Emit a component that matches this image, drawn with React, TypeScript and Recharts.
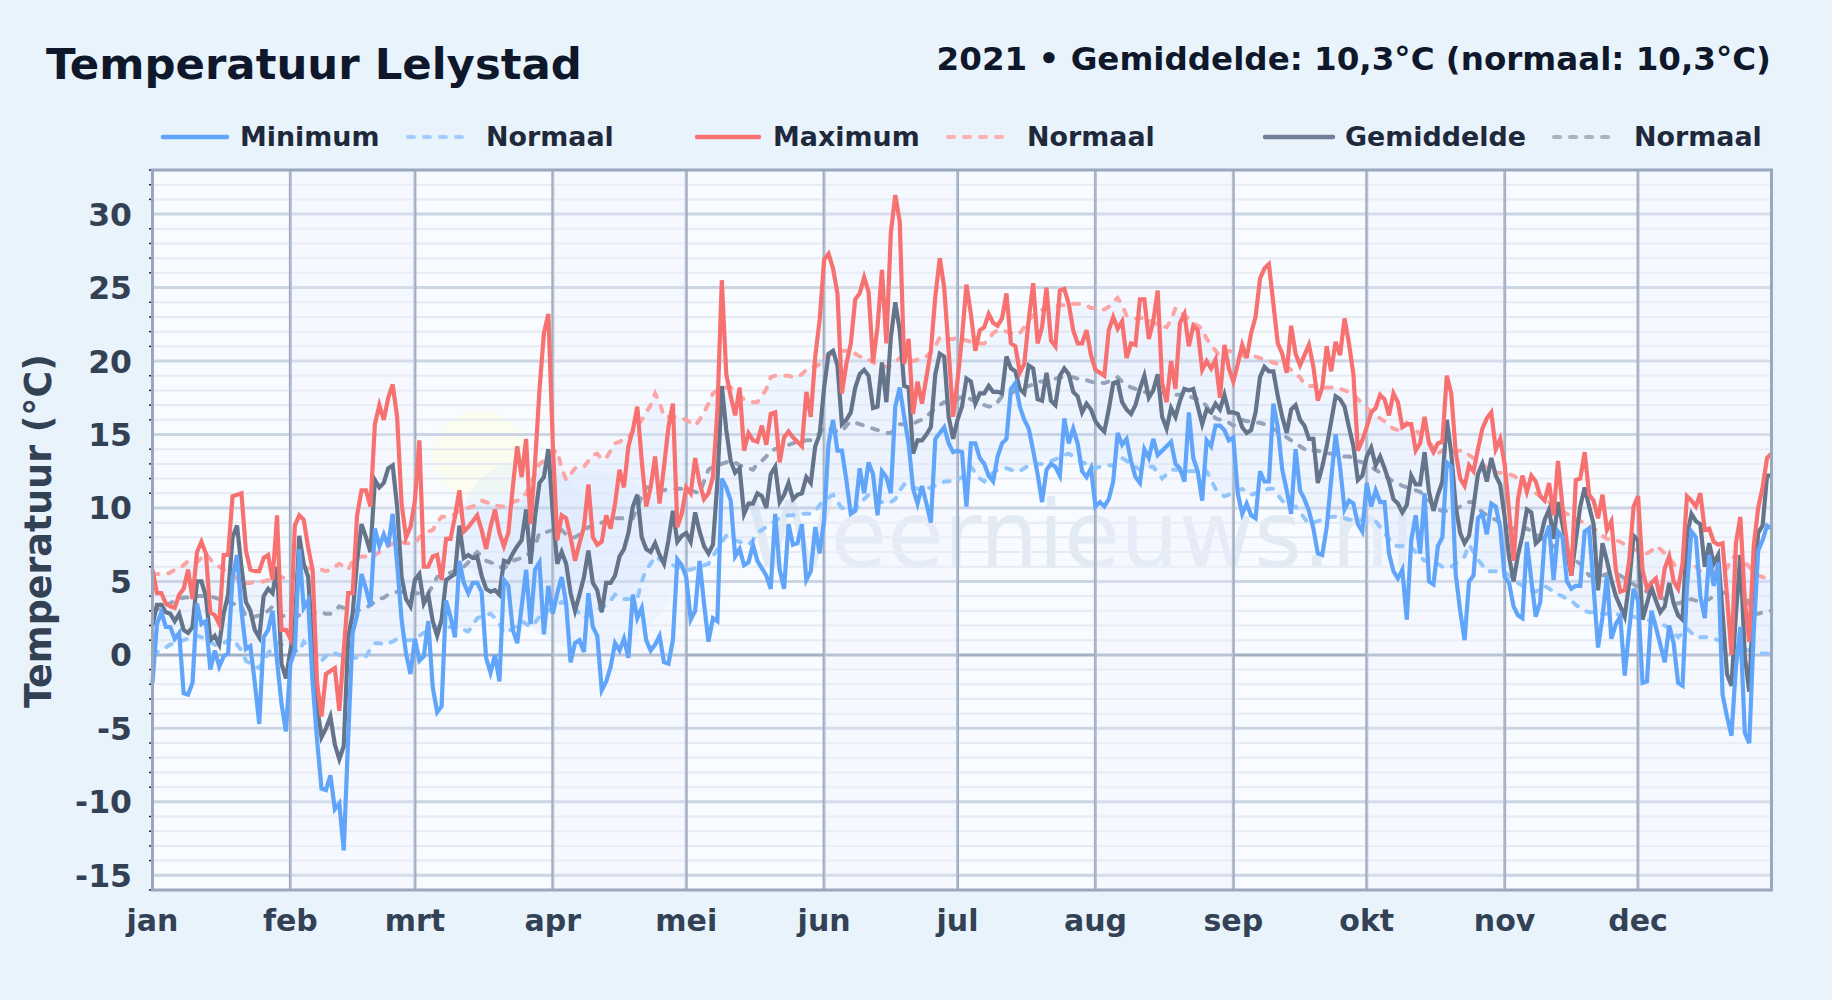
import React from 'react';
import { ComposedChart, Line, Area, XAxis, YAxis, CartesianGrid, ReferenceArea } from 'recharts';

const monthLabels = ['jan', 'feb', 'mrt', 'apr', 'mei', 'jun', 'jul', 'aug', 'sep', 'okt', 'nov', 'dec'];
const monthStarts = [0, 31, 59, 90, 120, 151, 181, 212, 243, 273, 304, 334];
const shadedMonths = [[31, 59], [90, 120], [151, 181], [212, 243], [273, 304], [334, 364]];
const yMajor = [-15, -10, -5, 5, 10, 15, 20, 25, 30];
const yMinor = [-16, -14, -13, -12, -11, -9, -8, -7, -6, -4, -3, -2, -1, 1, 2, 3, 4, 6, 7, 8, 9, 11, 12, 13, 14, 16, 17, 18, 19, 21, 22, 23, 24, 26, 27, 28, 29, 31, 32, 33];
const yTicks = [-16, -15, ...yMinor.slice(1, 5), -10, ...yMinor.slice(5, 9), -5, ...yMinor.slice(9, 13), 0, ...yMinor.slice(13, 17), 5, ...yMinor.slice(17, 21), 10, ...yMinor.slice(21, 25), 15, ...yMinor.slice(25, 29), 20, ...yMinor.slice(29, 33), 25, ...yMinor.slice(33, 37), 30, 31, 32, 33];

const minimum = [
  -1.9, 2.1, 2.9, 1.9, 1.9, 1.1, 1.5, -2.6, -2.7, -1.9, 3.5, 2.1, 2.3, -1, 0.3, -0.8, -0.1, 0.1, 5.3, 6.8, 3, 0.4, 0.6, -1.9, -4.7, 1.2, 1.7, 3, -0.4, -3.3, -5.2,
  -0.6, 0.3, 7.2, 3.2, 3.7, -1.9, -5.8, -9.1, -9.2, -8.2, -10.5, -10.1, -13.3, -5.6, 1.5, 2.7, 5.5, 4.5, 3.3, 8.6, 7.4, 8.2, 7.4, 9.6, 6.2, 2.4, 0.1, -1.3,
  1.1, -0.4, -0.1, 2.3, -2.2, -3.9, -3.5, 3.7, 2.6, 1.2, 6.4, 4.9, 4.2, 4.9, 4.9, 4.3, -0.2, -1.2, 0, -1.8, 5.1, 4.7, 1.7, 0.8, 3.3, 5.8, 2.1, 5.8, 6.3, 1.4, 4.7,
  2.8, 4.2, 5.3, 3.5, -0.5, 0.8, 1, 0.2, 4.2, 1.9, 1.3, -2.4, -1.8, -0.8, 0.8, 0.3, 1.1, -0.2, 4.1, 2.5, 3.2, 1, 0.3, 0.7, 1.3, -0.5, -0.6, 1, 6.5, 6.1,
  5.3, 2.4, 3, 6.4, 3.5, 0.9, 2.5, 2.3, 12, 11.4, 10.5, 6.7, 7.2, 6.1, 6.3, 7.5, 6.4, 5.9, 5.4, 4.5, 9.6, 5.8, 4.5, 8.9, 7.5, 7.6, 8.9, 5.1, 5.7, 8.7, 6.9,
  9.2, 14.4, 16, 13.9, 13.9, 11.9, 9.6, 9.8, 12.7, 11, 13.1, 12.3, 9.5, 12.5, 12.1, 11, 16.9, 18.2, 16.2, 14.4, 11.3, 10.3, 11.5, 10.3, 9, 14.7, 15.1, 15.5, 14.4, 13.8,
  13.9, 13.8, 10.1, 14.4, 14.4, 13.4, 13, 12.2, 11.8, 13.5, 14.4, 14.7, 18.1, 18.5, 16.9, 16, 15.4, 13.9, 12.3, 10.4, 12.6, 13, 12.8, 12.2, 16.1, 14.4, 15.4, 14.4, 12.5, 12.1, 12.7,
  10.1, 10.4, 10.1, 10.6, 11.8, 15.1, 14.3, 14.7, 13.2, 12.1, 11.7, 14, 13.4, 14.7, 13.6, 13.9, 14.2, 14.5, 13, 12.7, 11.8, 16.5, 13.4, 12.5, 10.5, 14.6, 14.2, 15.6, 15.6, 15.3, 14.6,
  14.8, 11, 9.6, 10.3, 9.5, 9.3, 12.5, 11.8, 11.8, 17.1, 15.5, 12.6, 11.2, 9.6, 14, 11.2, 10.6, 9.8, 8.6, 6.9, 6.8, 8.7, 11.9, 15, 12.8, 9.9, 10.5, 10.3, 8.9, 8.4,
  11.7, 10.1, 11.2, 10.4, 10.4, 6.9, 5.7, 5.2, 5.8, 2.4, 7.8, 9.5, 6.9, 11, 5, 4.8, 7.4, 8, 13.1, 12.8, 5.5, 3, 1, 5, 5.4, 9.3, 9.6, 8.2, 10.3, 10.1, 8.7,
  5.3, 4.9, 3.3, 2.7, 2.5, 7.7, 5.1, 2.6, 3.6, 7.9, 8.8, 5.1, 8.4, 8, 5, 4.5, 4.7, 4.7, 8.4, 8.6, 4.6, 0.5, 2.6, 5.4, 1.1, 2.1, 2.6, -1.4, 1.7, 4.5,
  3.7, -1.9, -1.8, 3, 1.9, 0.7, -0.5, 2, 0.8, -1.9, -2.1, 4.6, 8.4, 8, 4, 2.5, 6.8, 4.7, 6.3, -2.7, -4.2, -5.5, -0.8, 1.9, -5.3, -6, 1.5, 7.1, 7.8, 8.8, 8.6,
];

const maximum = [
  5.8, 4.2, 4.2, 3.5, 3.3, 3.2, 4.1, 4.5, 5.8, 3.8, 7, 7.7, 6.9, 2.9, 2.7, 2.1, 6.8, 6.8, 10.8, 10.9, 11, 7.1, 5.8, 5.7, 5.7, 6.6, 6.8, 5.1, 9.5, 1.7, 1.7,
  1.1, 8.8, 9.5, 9.2, 7.3, 5.8, -1.9, -4.2, -1.3, -1.1, -0.9, -3.8, 0.3, 4.2, 4.2, 9.5, 11.2, 11.2, 10.1, 15.7, 17, 16, 17.5, 18.4, 16.2, 10.3, 8, 8.7,
  10.5, 14.6, 6, 6, 6.7, 6.8, 5.1, 7.9, 7.9, 9.4, 11.2, 8.4, 8.7, 9.1, 9.5, 8.5, 7.2, 8.7, 9.9, 8.3, 7.4, 8.3, 11.4, 14.2, 12.1, 14.7, 8.9, 13, 18, 21.9, 23.2,
  14.4, 7.8, 9.5, 9.3, 8, 6.4, 7.6, 8.7, 11.6, 8, 7.5, 7.7, 9.5, 8.6, 10.3, 12.6, 11.4, 14.2, 15.3, 16.9, 13.2, 10.1, 11.4, 13.5, 10.3, 12.8, 15.5, 17.1, 8.7, 9.6,
  11.4, 11, 13.4, 11.7, 10.6, 11, 12.1, 16.6, 25.5, 19.1, 17.6, 16.3, 18.2, 13.9, 15.1, 14.6, 14.5, 15.6, 14.3, 16.4, 16.5, 13.1, 14.8, 15.2, 14.8, 14.5, 14.2, 17.9, 16.2, 20.3, 22.8,
  26.9, 27.3, 26.3, 24.6, 17.8, 19.8, 21.2, 24.2, 24.6, 25.7, 24.7, 19.9, 22.3, 26.2, 21.2, 28.7, 31.3, 29.5, 19.8, 21.5, 16.4, 18.6, 17.1, 18.9, 20.7, 24.4, 27, 25, 20.7, 16.2,
  18.7, 21.6, 25.2, 23.2, 20.7, 22.1, 22.3, 23.2, 22.6, 22.4, 22.9, 24.6, 21.2, 21, 19.2, 19.8, 22.8, 25.3, 21.2, 22.3, 25, 21.4, 21, 24.8, 24.9, 23.9, 22.1, 21.2, 21.2, 22.1, 20.4,
  19.4, 19.2, 19, 22.1, 23, 22.2, 22.7, 20.2, 21.2, 21.1, 24.2, 24.2, 21.5, 22.7, 24.8, 18.5, 17.2, 20, 18.1, 22.6, 23.2, 21, 22.4, 22.1, 19.4, 20, 19.5, 20.1, 17.5, 21.1, 19.5,
  18.6, 19.8, 21.1, 20.2, 21.9, 23, 25.6, 26.3, 26.6, 23.9, 21.2, 20.5, 19.2, 22.4, 20.5, 19.7, 20.4, 21.1, 19.6, 17.3, 18.2, 21, 19.3, 21.3, 20.4, 22.9, 21.2, 19.1, 13.9, 14.6,
  15.5, 16.5, 16.8, 17.7, 17.4, 16.3, 17.8, 17.2, 15.5, 15.7, 15.7, 13.9, 14.4, 16.2, 14.4, 13.8, 14.4, 14.5, 19, 17.8, 13.8, 12, 11.5, 12.9, 12.5, 14, 15.4, 16.1, 16.5, 14, 14.7,
  13, 9.8, 6.4, 10.6, 12.2, 11.1, 12.2, 11.8, 10.8, 10.5, 11.7, 9.5, 13.2, 10.1, 7.6, 5.4, 11.9, 12, 13.8, 10.9, 10.5, 9.3, 10.9, 8.5, 9.1, 5.8, 4.3, 4.4, 6.4, 10.1,
  10.8, 5.8, 4.5, 4.9, 5.2, 3.8, 5.9, 6.7, 5, 4.5, 6.2, 10.8, 10.5, 10.1, 11, 8.5, 8.6, 7.7, 7.5, 7.6, 4, 0, 7.6, 9.4, 3.7, 0.9, 7.4, 10, 11.4, 13.4, 13.7,
];

const gemiddelde = [
  2, 3.4, 3.4, 2.9, 2.8, 2.3, 2.8, 1.7, 1.5, 1.9, 5, 5, 4, 1, 1.3, 0.7, 2.8, 4.1, 8, 8.8, 6, 3.6, 3, 1.7, 1.2, 4, 4.5, 4.2, 6, -0.6, -1.6,
  0.3, 1.9, 8.1, 6.2, 5.3, 0.6, -3.5, -5.6, -5, -4.2, -6.1, -7.1, -6.2, 1.2, 2.8, 6.4, 8.9, 8, 7, 11.9, 11.4, 11.7, 12.7, 12.9, 10.1, 5.3, 3.8, 3.3,
  5.1, 5.5, 3.5, 4.1, 2.3, 1.3, 2.4, 5.1, 5.3, 5.5, 8.8, 6.6, 6.8, 6.6, 6.7, 5.4, 4.5, 4.3, 4.4, 4.1, 6.4, 6.3, 6.9, 7.4, 7.8, 9.9, 6.2, 9.4, 11.7, 12.1, 14,
  9.6, 6.2, 7, 6.2, 4.2, 3, 4.1, 5.3, 7.1, 4.9, 4.4, 2.9, 4.9, 4.9, 5.4, 6.7, 7.2, 8.3, 10.1, 10.9, 8, 7.2, 7, 7.6, 6.8, 6.2, 7.8, 9.8, 7.7, 8.1,
  8.3, 7.7, 9.7, 8.4, 7.4, 6.9, 7.5, 11.7, 18.3, 15.3, 13.2, 12.4, 12.7, 9.6, 10.3, 10.3, 11, 10.8, 10, 12.3, 12.8, 10.4, 10.9, 11.7, 10.6, 10.9, 11, 12.1, 11.7, 14.2, 15,
  18.2, 20.5, 20.7, 19.7, 15.7, 16, 16.5, 18.2, 19.1, 19.4, 19, 16.8, 16.9, 19.9, 17.2, 21.6, 24, 22.1, 18.3, 18.2, 13.7, 14.6, 14.6, 15, 15.5, 19.1, 20.5, 20.3, 16.2, 14.7,
  16, 16.9, 18.8, 18.6, 17.1, 17.8, 17.8, 18.3, 17.9, 17.9, 17.8, 20.3, 19.5, 19.3, 18.1, 17.8, 19.7, 19.5, 17.4, 17.3, 19.2, 17.3, 17, 19, 19.5, 19.1, 17.9, 17.6, 16.5, 17.1, 16.7,
  15.9, 15.5, 15.2, 16.7, 18.5, 18.6, 17.2, 16.7, 16.4, 17, 18.1, 19, 17.5, 18, 19.1, 16.2, 15.4, 16.8, 16.2, 17.3, 18.1, 18, 18.1, 16.9, 15.7, 16.7, 16.5, 17.1, 16.7, 17.7, 16.5,
  16.5, 16.4, 15.5, 15.1, 15.3, 16.5, 18.9, 19.6, 19.3, 19.3, 17.6, 16.2, 15.1, 16.7, 17, 16, 15.6, 14.7, 14.7, 11.7, 12.8, 14.2, 15.9, 17.6, 17.4, 16.9, 15.5, 14.2, 11.9, 12.2,
  13.5, 14.1, 12.9, 13.5, 12.7, 11.8, 10.6, 10.3, 9.7, 10.2, 12.2, 11.6, 11.6, 13.8, 11.1, 9.8, 10.9, 11.8, 16, 13.7, 10.1, 8.3, 7.6, 8.1, 10.1, 12.3, 13, 11.8, 13.4, 12.2, 11.6,
  9.4, 6.7, 5, 6.8, 8.1, 9.9, 9.7, 7.6, 7.9, 9.2, 9.9, 7.9, 10.4, 8.9, 7.1, 5.4, 7.8, 10.1, 11.4, 10.1, 8.9, 4.4, 7.6, 6.4, 5.1, 4, 3.3, 2.6, 4.9, 8.1,
  7.8, 2.4, 3.5, 4.6, 3.7, 2.9, 3.3, 4.9, 3.5, 2.7, 2.4, 8.1, 9.6, 9.1, 8.9, 6, 7.6, 6.2, 6.8, 2.8, -1.3, -2.1, 2.8, 6.8, -0.1, -2.5, 4.4, 8.3, 8.8, 12.2, 12.2,
];

const normaalMin = [
  0, 0.2, 0.3, 0.5, 0.7, 0.8, 0.9, 1, 1.1, 1.2, 1.3, 1.2, 1.1, 0.9, 0.7, 0.6, 0.8, 1, 1.1, 0.7, 0.3, -0.4, -0.6, -0.8, -0.9, -0.4, 0.1, 0.5, 0.8, 0.7, 0.6,
  0.5, 0.3, 0.2, 0.9, 0.6, 0.2, -0.2, -0.4, -0.1, 0.2, 0.1, 0, -0.1, -0.1, -0.2, -0.2, -0.2, -0.1, 0.4, 0.8, 0.8, 0.7, 0.8, 0.9, 1.1, 1.1, 1, 1,
  1.1, 1.3, 1.5, 1.7, 1.9, 1.9, 1.9, 1.9, 1.9, 1.9, 1.8, 1.7, 1.6, 2, 2.5, 2.6, 2.7, 2.8, 2.5, 2.1, 1.5, 1.6, 1.8, 2, 2.3, 2.1, 1.9, 2.2, 2.6, 2.8, 3,
  3.2, 3.4, 3.6, 3.5, 3.4, 3.2, 2.8, 2.5, 2.7, 2.9, 3.1, 3.2, 3.4, 3.7, 4.1, 4, 3.8, 3.8, 3.8, 3.8, 5, 5.8, 6.2, 6.7, 6.5, 6.3, 6.2, 6.1, 6, 5.9,
  5.8, 5.8, 5.9, 6, 6.1, 6.2, 6.7, 7.2, 7.7, 8.1, 8, 7.8, 7.7, 7.6, 7.5, 7.8, 8.3, 8.5, 8.7, 8.9, 9.1, 9.3, 9.4, 9.5, 9.5, 9.5, 9.6, 9.6, 9.6, 9.8, 10.2,
  10.5, 10.7, 10.9, 10.4, 10, 9.9, 9.9, 9.9, 10.2, 10.6, 10.9, 10.7, 10.5, 10.4, 10.3, 10.4, 10.6, 11.2, 11.6, 11.5, 11.4, 11.3, 11.2, 11.3, 11.4, 11.5, 11.6, 11.8, 11.8, 11.9,
  11.9, 12.1, 12.4, 12.8, 12.4, 12, 11.8, 12.1, 12.4, 12.6, 12.7, 12.7, 12.6, 12.5, 12.5, 12.7, 12.9, 13, 13, 13, 13.1, 13.2, 13.3, 13.5, 13.6, 13.7, 13.5, 13.3, 13.1, 13, 12.9,
  12.7, 12.8, 12.9, 12.9, 12.9, 13.1, 13.4, 13.2, 13, 12.8, 12.6, 12.7, 12.8, 12.8, 12.4, 12, 12.3, 12.6, 12.6, 12.6, 12.5, 12.5, 12.5, 12.5, 12.5, 12.5, 11.9, 11.3, 11, 10.8, 10.9,
  11.1, 11.2, 11.3, 11.1, 10.9, 11, 11.1, 11.2, 11.3, 11.3, 10.9, 10.5, 10.2, 10.1, 10.1, 9.7, 9.3, 8.9, 9, 9.1, 9.2, 9.3, 9.4, 9.4, 9.3, 9.3, 9.2, 9.2, 9.2, 9.1,
  9.1, 9.1, 9.1, 8.7, 8.3, 7.9, 7.5, 7.4, 7.4, 7.5, 7.3, 7, 6.7, 6.4, 6.4, 6.4, 6.2, 6, 5.9, 6, 6.2, 6.5, 6.7, 7.5, 7, 6.5, 6.1, 5.7, 5.7, 5.7, 5.7,
  5.6, 5.4, 5.1, 4.9, 4.7, 4.5, 4.4, 4.3, 4.5, 4.7, 4.5, 4.3, 4.1, 4, 3.8, 3.7, 3.4, 3.2, 3, 2.9, 2.9, 2.9, 2.8, 2.8, 2.8, 2.8, 2.7, 2.7, 2.6, 2.6,
  2.5, 2.4, 2.4, 2.3, 2.2, 2.1, 2, 1.8, 1.5, 1.2, 1.5, 1.8, 1.5, 1.2, 1.2, 1.2, 1.2, 1.1, 1, 0.9, 0.8, 0.7, 0.6, 0.5, 0.4, 0.3, 0.2, 0.1, 0.1, 0.1, 0.1,
];

const normaalMax = [
  5.5, 5.5, 5.5, 5.5, 5.6, 5.8, 5.9, 6.1, 6.4, 6.4, 6.3, 6.6, 6.9, 6.5, 6.2, 6, 5.8, 5.6, 5.4, 5.2, 5, 4.9, 4.9, 5, 5, 5, 5.1, 5.2, 5.3, 5.3, 5.2,
  5.2, 5.3, 5.5, 5.7, 5.9, 5.9, 5.8, 5.8, 5.7, 5.8, 6, 6.2, 6, 5.8, 6.4, 6.6, 6.7, 6.7, 6.6, 6.8, 7, 7.2, 7.4, 7.6, 7.7, 7.7, 7.6, 7.6,
  7.6, 8, 8.2, 8.4, 8.5, 9, 9.4, 9.4, 9.4, 9.6, 9.8, 9.9, 10, 10.1, 10.3, 10.5, 10.4, 10.3, 10.2, 10.1, 10.1, 10.2, 10.4, 10.5, 10.6, 11, 11.6, 12.3, 13, 13.2, 13.5,
  13.8, 13.9, 12.7, 11.9, 12.3, 12.7, 12.8, 12.8, 13.2, 13.6, 13.7, 13.3, 13.4, 13.9, 14.4, 14.5, 14.7, 14.8, 15.2, 15.6, 16, 16.5, 17, 17.8, 17.2, 16.2, 16.2, 16.2, 16.2, 16.1,
  16, 15.8, 15.6, 16, 16.5, 17.1, 17.8, 18, 18.1, 18.2, 18.2, 17.9, 17.6, 17.4, 17.3, 17.2, 17.2, 17.6, 18.1, 18.9, 19, 19, 19, 19, 18.9, 18.9, 19.1, 19.4, 19.6, 19.6, 19.8,
  20.2, 20.4, 20.5, 20.6, 20.7, 20.7, 20.7, 20.5, 20.3, 20.3, 20.1, 19.9, 19.8, 19.7, 19.6, 19.7, 19.9, 20.2, 20.3, 20.1, 20, 20.1, 20.2, 20.3, 20.6, 21, 21.6, 21.6, 21.5, 21.5,
  21.6, 21.5, 21.4, 21.3, 21.2, 21.2, 21.2, 21.5, 21.9, 22.1, 22.1, 22, 21.9, 21.8, 21.9, 22.3, 22.8, 23.1, 23.3, 23.5, 23.6, 23.7, 23.7, 23.8, 23.8, 23.8, 23.9, 23.9, 23.9, 23.8, 23.6,
  23.6, 23.5, 23.5, 23.7, 24, 24.3, 23.8, 23.1, 23, 22.9, 22.9, 23, 22.8, 22.6, 22.5, 22.4, 22.3, 22.8, 23.6, 23.4, 23.1, 22.9, 22.6, 22.4, 22.2, 21.5, 21.1, 20.7, 20.3, 20.5, 20.7,
  20.6, 20.5, 20.4, 20.3, 20.3, 20.3, 20.2, 20.1, 20, 19.9, 19.8, 19.7, 19.6, 19.4, 19.1, 18.9, 18.4, 18.3, 18.3, 18.2, 18.2, 18.2, 18.2, 18.2, 18.1, 18, 17.9, 17.7, 17.4, 17.1,
  16.8, 16.5, 16.3, 16.1, 15.9, 15.6, 15.4, 15.3, 15.5, 15.8, 15.6, 15.3, 15, 14.8, 14.5, 14.1, 13.7, 13.9, 14, 13.9, 13.9, 13.9, 13.9, 13.6, 13.4, 13.2, 13, 12.7, 12.5, 12.4, 12.4,
  12.4, 12.3, 12.2, 12, 11.7, 11.5, 11.3, 11, 10.8, 10.6, 10.4, 10.2, 10, 9.8, 9.6, 9.5, 9.3, 9.1, 9, 8.8, 8.6, 8.4, 8.1, 7.9, 7.8, 7.8, 7.7, 7.5, 7.4, 7.2,
  7.1, 7, 6.9, 7.1, 7.4, 7.2, 6.9, 6.6, 6.2, 5.8, 5.9, 6, 6.2, 6, 5.7, 5.6, 5.6, 5.7, 5.7, 5.7, 5.9, 6.6, 6.7, 6.6, 6.3, 6, 5.7, 5.4, 5.3, 5.2, 5.2,
];

const normaalGem = [
  3, 3.1, 3.2, 3.4, 3.5, 3.7, 3.8, 3.9, 3.9, 4, 4, 4, 4, 4, 3.9, 3.8, 3.7, 3.6, 3.5, 3.4, 3.3, 2.6, 2.5, 2.6, 2.7, 2.8, 3, 3.3, 3, 2.7, 2.6,
  2.6, 2.6, 2.7, 2.7, 2.8, 2.8, 2.9, 2.9, 2.8, 2.8, 3, 3.3, 3.2, 3.1, 3, 3, 3.1, 3.2, 3.4, 3.6, 3.8, 3.9, 4.1, 4.2, 4.3, 4.3, 4.2, 4.2,
  4.2, 4.2, 4.2, 4.2, 4.7, 5.3, 5.4, 5.5, 5.6, 5.7, 5.9, 6, 6.3, 6.7, 7, 6.7, 6.4, 6.3, 6.2, 6, 5.9, 6.1, 6.4, 6.5, 6.6, 6.7, 7, 7.4, 8.3, 8.3, 8.4,
  8.5, 8.7, 8.5, 8.2, 8, 8, 8.2, 8.4, 8.7, 8.7, 8.9, 9, 9.1, 9.3, 9.3, 9.3, 9.3, 9.3, 9.3, 10, 10.8, 11.4, 11.4, 11.3, 11.2, 11.2, 11.3, 11.3, 11.3, 11.3,
  11.3, 11.2, 11.1, 11, 11.8, 12.6, 12.8, 12.9, 13, 13.1, 13.2, 13.1, 12.9, 12.8, 12.7, 12.6, 13, 13.2, 13.5, 13.9, 14, 14.1, 14.2, 14.3, 14.4, 14.5, 14.5, 14.6, 14.6, 14.8, 15.1,
  15.5, 15.4, 15.3, 15.2, 15.2, 15.6, 15.9, 15.8, 15.7, 15.6, 15.5, 15.4, 15.3, 15.2, 15.1, 15.1, 15.4, 15.7, 15.7, 15.7, 15.7, 15.9, 16, 16.2, 16.5, 16.8, 17, 17.2, 17.1, 17.2,
  17.4, 17.6, 17.5, 17.4, 17.2, 17.1, 17, 16.9, 16.9, 17.2, 17.6, 17.7, 17.8, 18, 18.1, 18.2, 18.3, 18.4, 18.6, 18.6, 18.7, 18.8, 18.8, 18.9, 18.9, 18.9, 18.9, 18.8, 18.8, 18.7, 18.6,
  18.5, 18.5, 18.5, 18.6, 18.7, 18.9, 18.6, 18.4, 18.2, 18.1, 18, 17.9, 17.8, 17.8, 17.8, 17.8, 17.8, 17.8, 17.7, 17.7, 17.8, 17.6, 17.5, 17.4, 17.3, 16.9, 16.5, 16.1, 16, 15.9, 15.8,
  15.6, 15.8, 16, 15.9, 15.9, 15.8, 15.8, 15.7, 15.5, 15.4, 15.2, 15, 14.8, 14.6, 14.4, 14.2, 14, 13.8, 13.9, 13.9, 13.8, 13.7, 13.7, 13.6, 13.6, 13.5, 13.5, 13.4, 13.2, 13.1,
  13, 12.8, 12.6, 12.4, 12.2, 12, 11.8, 11.7, 11.5, 11.4, 11.3, 11.2, 11.1, 10.8, 10.5, 10.2, 9.9, 9.8, 9.8, 9.7, 9.9, 10.1, 10.3, 10.4, 10.4, 10, 9.7, 9.5, 9.3, 9.2, 9,
  8.9, 8.7, 8.6, 8.5, 8.5, 8.6, 8.4, 8.2, 8, 7.8, 7.6, 7.4, 7.2, 7, 6.8, 6.6, 6.4, 6.2, 5.8, 5.4, 5.4, 5.4, 5.4, 5.5, 5.5, 5.5, 5.4, 5.2, 5, 4.8,
  4.6, 4.5, 4.3, 4.2, 4.1, 3.9, 3.8, 3.6, 3.5, 3.5, 3.6, 3.7, 3.8, 3.7, 3.6, 3.7, 3.8, 4, 4.1, 4.2, 4.3, 4.3, 4.3, 4.3, 4, 3.5, 2.8, 2.8, 2.9, 3, 3,
];

const table = minimum.map((v, i) => ({
  day: i,
  min: v,
  max: maximum[i],
  gem: gemiddelde[i],
  nMin: normaalMin[i],
  nMax: normaalMax[i],
  nGem: normaalGem[i],
  band: [normaalMin[i], normaalMax[i]],
}));

const BLUE = '#60a5fa';
const RED = '#f87171';
const GREY = '#64748b';
const BLUE_N = '#93c5fd';
const RED_N = '#fca5a5';
const GREY_N = '#94a3b8';
const FONT = '"DejaVu Sans", sans-serif';

const legendItems = [
  { label: 'Minimum', color: BLUE, dashed: false, x1: 163, x2: 227, tx: 240 },
  { label: 'Normaal', color: '#a3cdfb', dashed: true, x1: 408, x2: 463, tx: 486 },
  { label: 'Maximum', color: RED, dashed: false, x1: 697, x2: 759, tx: 773 },
  { label: 'Normaal', color: '#fcb0b0', dashed: true, x1: 948, x2: 1005, tx: 1027 },
  { label: 'Gemiddelde', color: '#718096', dashed: false, x1: 1265, x2: 1333, tx: 1345 },
  { label: 'Normaal', color: '#a8b4c2', dashed: true, x1: 1554, x2: 1618, tx: 1634 },
];

const YTick = ({ y, payload }: any) => {
  if (payload.value % 5 === 0) {
    return (
      <text x={132} y={y + 11.5} textAnchor="end" fontFamily={FONT} fontWeight={700} fontSize={31.5} fill="#334155">
        {payload.value}
      </text>
    );
  }
  return <line x1={149} x2={152} y1={y} y2={y} stroke="#1e293b" strokeWidth={1.5} />;
};

const XTick = ({ x, payload }: any) => (
  <text x={x} y={931} textAnchor="middle" fontFamily={FONT} fontWeight={700} fontSize={30} fill="#334155">
    {monthLabels[monthStarts.indexOf(payload.value)]}
  </text>
);

const Backdrop = () => (
  <svg width={1832} height={1000} style={{ position: 'absolute', left: 0, top: 0 }}>
    <rect x={152.5} y={170} width={1619} height={720} fill="#f8fbff" />
    <ellipse cx={480} cy={455} rx={48} ry={44} fill="#fbfde8" opacity={0.7} />
    <ellipse cx={525} cy={530} rx={65} ry={70} fill="#dbeafe" opacity={0.35} />
    <ellipse cx={590} cy={560} rx={88} ry={90} fill="#dbeafe" opacity={0.35} />
    <text x={745} y={567} fontFamily={FONT} fontSize={92} fill="#e2eaf4">Weernieuws.nl</text>
  </svg>
);

const Overlay = () => (
  <svg width={1832} height={1000} style={{ position: 'absolute', left: 0, top: 0, pointerEvents: 'none' }}>
    <text x={46} y={79} fontFamily={FONT} fontWeight={700} fontSize={43.4} fill="#0f172a">Temperatuur Lelystad</text>
    <text x={1771} y={70} textAnchor="end" fontFamily={FONT} fontWeight={700} fontSize={32.55} fill="#0f172a">
      2021 • Gemiddelde: 10,3°C (normaal: 10,3°C)
    </text>
    {legendItems.map((item, i) => (
      <g key={i}>
        <line
          x1={item.x1} x2={item.x2} y1={137} y2={137}
          stroke={item.color} strokeWidth={item.dashed ? 4 : 4.5}
          strokeLinecap="round" strokeDasharray={item.dashed ? '6 10' : undefined}
        />
        <text x={item.tx} y={146} fontFamily={FONT} fontWeight={700} fontSize={26.9} fill="#1e293b">{item.label}</text>
      </g>
    ))}
    <text
      transform="translate(51,531) rotate(-90)" textAnchor="middle"
      fontFamily={FONT} fontWeight={700} fontSize={36.4} fill="#334155"
    >
      Temperatuur (°C)
    </text>
    <rect x={152.5} y={170} width={1619} height={720} fill="none" stroke="#9aa8bd" strokeWidth={3} />
  </svg>
);

export default function App() {
  return (
    <div style={{ position: 'absolute', left: 0, top: 0, width: 1832, height: 1000, background: '#e9f3fc', overflow: 'hidden' }}>
      <Backdrop />
      <div style={{ position: 'absolute', left: 0, top: 0 }}>
        <ComposedChart width={1832} height={1000} data={table} margin={{ top: 170, right: 60.5, bottom: 0, left: 0 }}>
          {shadedMonths.map((m, i) => (
            <ReferenceArea key={i} x1={m[0]} x2={m[1]} fill="#eef2ff" fillOpacity={0.3} stroke="none" />
          ))}
          <CartesianGrid vertical={false} horizontalValues={yMinor} stroke="#e6ebf3" strokeWidth={2} />
          <CartesianGrid vertical={false} horizontalValues={yMajor} stroke="#cbd5e3" strokeWidth={3} />
          <CartesianGrid vertical={false} horizontalValues={[0]} stroke="#a3afc2" strokeWidth={3} />
          <CartesianGrid horizontal={false} verticalValues={monthStarts} stroke="#a0acbf" strokeWidth={3} />
          <XAxis
            type="number"
            dataKey="day"
            domain={[0, 364]}
            ticks={monthStarts}
            interval={0}
            height={110}
            axisLine={false}
            tickLine={false}
            tick={<XTick />}
          />
          <YAxis
            type="number"
            domain={[-16, 33]}
            ticks={yTicks}
            interval={0}
            width={152.5}
            axisLine={false}
            tickLine={false}
            tick={<YTick />}
          />
          <Area dataKey="band" type="linear" stroke="none" fill="#bfdbfe" fillOpacity={0.16} isAnimationActive={false} />
          <Line dataKey="nMin" type="linear" stroke={BLUE_N} strokeWidth={4} strokeDasharray="6 10" strokeLinecap="round" dot={false} isAnimationActive={false} />
          <Line dataKey="nMax" type="linear" stroke={RED_N} strokeWidth={4} strokeDasharray="6 10" strokeLinecap="round" dot={false} isAnimationActive={false} />
          <Line dataKey="nGem" type="linear" stroke={GREY_N} strokeWidth={4} strokeDasharray="6 10" strokeLinecap="round" dot={false} isAnimationActive={false} />
          <Line dataKey="gem" type="linear" stroke={GREY} strokeWidth={4.2} dot={false} isAnimationActive={false} />
          <Line dataKey="max" type="linear" stroke={RED} strokeWidth={4.2} dot={false} isAnimationActive={false} />
          <Line dataKey="min" type="linear" stroke={BLUE} strokeWidth={4.2} dot={false} isAnimationActive={false} />
        </ComposedChart>
      </div>
      <Overlay />
    </div>
  );
}
